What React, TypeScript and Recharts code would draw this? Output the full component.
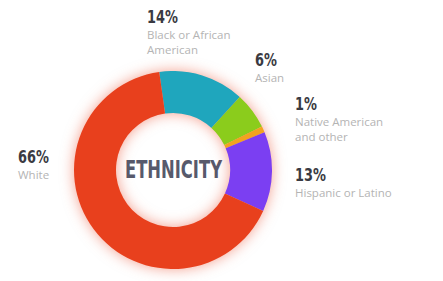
import React from "react";
import { PieChart, Pie, Cell } from "recharts";

const categories = ["Black or African American", "Asian", "Native American and other", "Hispanic or Latino", "White"];
const shares = [14, 6, 1, 13, 66];
const colors = ["#1fa6bd", "#8bcc1c", "#f2a31f", "#7b3ff2", "#e8401d"];
const labelLines = [["Black or African", "American"], ["Asian"], ["Native American", "and other"], ["Hispanic or Latino"], ["White"]];

// callout anchor: left x and baseline of the percentage
const calloutPos = [
  { x: 147, y: 23 },
  { x: 255, y: 66 },
  { x: 295, y: 110 },
  { x: 295, y: 181 },
  { x: 18, y: 163 },
];

const data = categories.map((name, i) => ({ name, value: shares[i] }));

const App: React.FC = () => {
  return (
    <div style={{ position: "fixed", left: 0, top: 0, width: 443, height: 281, background: "#ffffff", overflow: "hidden" }}>
      <style>{`.recharts-pie { filter: drop-shadow(0 0 7px rgba(232,64,29,0.5)); }`}</style>
      <PieChart width={443} height={281} margin={{ top: 0, right: 0, bottom: 0, left: 0 }}>
        <Pie
          data={data}
          dataKey="value"
          cx={173}
          cy={170}
          innerRadius={57}
          outerRadius={99}
          startAngle={98}
          endAngle={-262}
          stroke="none"
          isAnimationActive={false}
        >
          {data.map((d, i) => (
            <Cell key={d.name} fill={colors[i]} />
          ))}
        </Pie>
        <text
          x={173.5}
          y={178}
          textAnchor="middle"
          textLength={97}
          lengthAdjust="spacingAndGlyphs"
          fontFamily="'DejaVu Sans', sans-serif"
          fontWeight={700}
          fontSize={25}
          fill="#575a6c"
        >
          ETHNICITY
        </text>
        {data.map((d, i) => (
          <g key={d.name}>
            <text
              transform={`translate(${calloutPos[i].x},${calloutPos[i].y}) scale(0.76,1)`}
              fontFamily="'DejaVu Sans', sans-serif"
              fontWeight={700}
              fontSize={17}
              fill="#3a3a42"
            >
              {d.value}%
            </text>
            {labelLines[i].map((line, j) => (
              <text
                key={line}
                x={calloutPos[i].x}
                y={calloutPos[i].y + 16 + j * 15}
                fontFamily="'Open Sans', sans-serif"
                fontSize={11.5}
                fill="#b4b4b4"
              >
                {line}
              </text>
            ))}
          </g>
        ))}
      </PieChart>
    </div>
  );
};

export default App;
